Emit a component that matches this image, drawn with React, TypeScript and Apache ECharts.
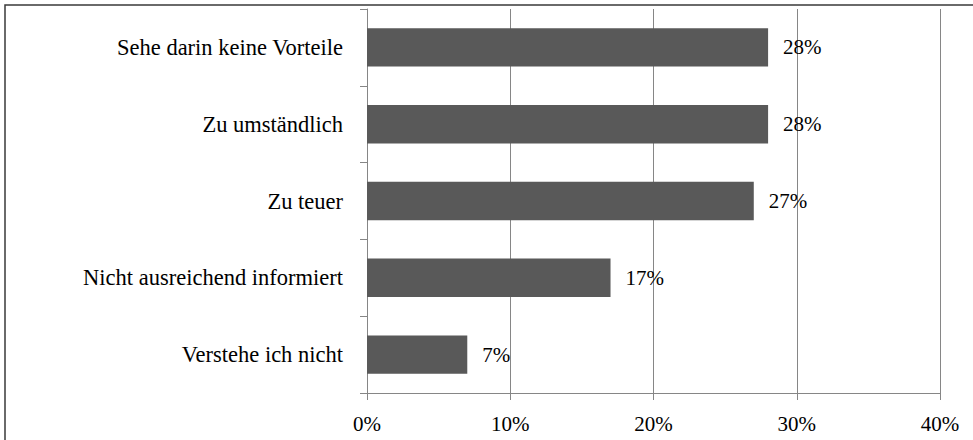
import React, { useEffect, useRef } from "react";
import * as echarts from "echarts";

const categories = [
  "Sehe darin keine Vorteile",
  "Zu umständlich",
  "Zu teuer",
  "Nicht ausreichend informiert",
  "Verstehe ich nicht",
];
const values = [28, 28, 27, 17, 7];
const xTicks = [0, 10, 20, 30, 40];

const FONT = "Liberation Serif";

export default function App() {
  const ref = useRef<HTMLDivElement>(null);
  useEffect(() => {
    if (!ref.current) return;
    const chart = echarts.init(ref.current, undefined, { renderer: "svg" });
    chart.setOption({
      animation: false,
      backgroundColor: "#ffffff",
      graphic: [
        {
          type: "rect",
          shape: { x: 5, y: 5, width: 1200, height: 1200 },
          style: { fill: "none", stroke: "#3a3a3a", lineWidth: 1.5 },
          z: 100,
        },
      ],
      grid: { left: 367, right: 33, top: 9, bottom: 47, containLabel: false },
      xAxis: {
        type: "value",
        min: xTicks[0],
        max: xTicks[xTicks.length - 1],
        interval: 10,
        axisLine: { show: true, lineStyle: { color: "#868686", width: 1 } },
        axisTick: { show: true, length: 7, lineStyle: { color: "#868686" } },
        splitLine: { show: true, lineStyle: { color: "#868686", width: 1 } },
        axisLabel: {
          formatter: (v: number) => v + "%",
          color: "#000",
          fontFamily: FONT,
          fontSize: 21,
          margin: 20,
        },
      },
      yAxis: {
        type: "category",
        inverse: true,
        data: categories,
        axisLine: { show: true, lineStyle: { color: "#868686", width: 1 } },
        axisTick: { show: true, length: 7, lineStyle: { color: "#868686" } },
        axisLabel: {
          color: "#000",
          fontFamily: FONT,
          fontSize: 22.5,
          margin: 24,
        },
      },
      series: [
        {
          type: "bar",
          data: values,
          barWidth: "50%",
          itemStyle: { color: "#595959" },
          label: {
            show: true,
            position: "right",
            distance: 15,
            formatter: (p: any) => p.value + "%",
            color: "#000",
            fontFamily: FONT,
            fontSize: 21,
          },
        },
      ],
    });
    return () => chart.dispose();
  }, []);
  return (
    <div
      ref={ref}
      style={{ position: "fixed", left: 0, top: 0, width: 973, height: 440 }}
    />
  );
}
